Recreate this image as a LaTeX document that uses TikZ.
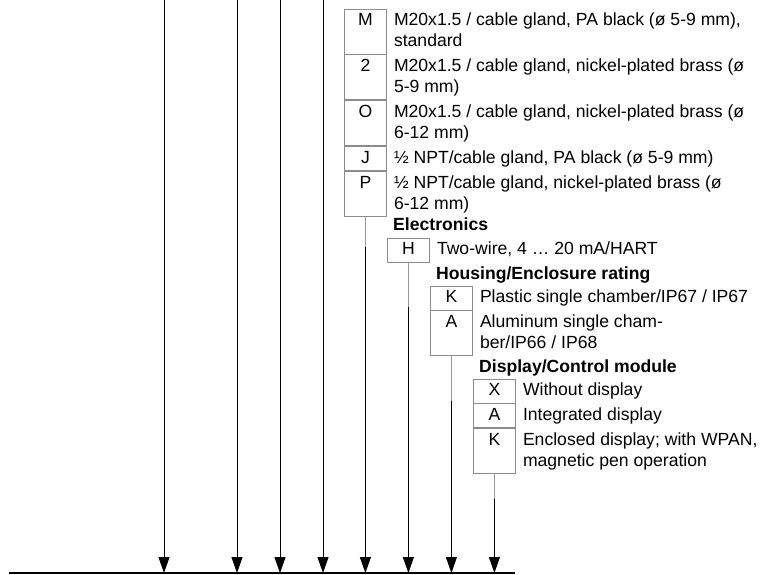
\documentclass[tikz,border=0pt]{standalone}
\usepackage{fontspec}
\setmainfont{Liberation Sans}
\usetikzlibrary{positioning,arrows.meta}
\newcommand{\bodysize}{\fontsize{17.6}{21}\selectfont}
\tikzset{
  codecell/.style={draw=black!45, line width=0.8pt, minimum width=42pt, inner sep=0pt, text height=17pt, text depth=7pt},
  tallcell/.style={codecell, text depth=28pt},
  desc/.style={anchor=base west, align=left, inner sep=0pt},
  desctwo/.style={desc, yshift=-21pt},
  head/.style={anchor=base west, inner sep=0pt, font=\bodysize\bfseries},
  feed/.style={line width=0.9pt, -{Triangle[width=11pt,length=16pt]}},
  stub/.style={draw=black!40, line width=0.9pt},
}

\begin{document}
\begin{tikzpicture}[x=1pt, y=-1pt, font=\bodysize]
			\useasboundingbox (0,0) rectangle (760,574);
			
			%%%%% BASE LINE %%%%%
			\coordinate (bl) at (9,573);
			\coordinate (br) at (515,573);
			\draw[line width=1.2pt] (bl) -- (br);
			
			%%%%% FREE POSITIONS %%%%%
			\foreach \px [count=\i] in {164,237,280,323} {
				\coordinate (t\i) at (\px,0);
				\draw[feed] (t\i) -- (t\i |- bl);
			}
			
			%%%%% CABLE ENTRY %%%%%
			\node[tallcell, anchor=north west] (cM) at (344,8.5) {M};
			\node[tallcell, below=0pt of cM] (c2) {2};
			\node[tallcell, below=0pt of c2] (cO) {O};
			\node[codecell, below=0pt of cO] (cJ) {J};
			\node[tallcell, below=0pt of cJ] (cP) {P};
			
			\node[desctwo] (dM) at ([xshift=7pt]cM.base east) {M20x1.5 / cable gland, PA black (ø 5-9 mm),\\standard};
			\node[desctwo] (d2) at ([xshift=7pt]c2.base east) {M20x1.5 / cable gland, nickel-plated brass (ø\\5-9 mm)};
			\node[desctwo] (dO) at ([xshift=7pt]cO.base east) {M20x1.5 / cable gland, nickel-plated brass (ø\\6-12 mm)};
			\node[desc] (dJ) at ([xshift=7pt]cJ.base east) {½ NPT/cable gland, PA black (ø 5-9 mm)};
			\node[desctwo] (dP) at ([xshift=7pt]cP.base east) {½ NPT/cable gland, nickel-plated brass (ø\\6-12 mm)};
			
			\draw[stub] (cP.south) -- ++(0,30) coordinate (sP);
			\draw[feed] (sP) -- (sP |- bl);
			
			%%%%% ELECTRONICS %%%%%
			\node[head] (hElec) at (393,230.5) {Electronics};
			\node[codecell, anchor=north west] (cH) at (387,237.5) {H};
			\node[desc] (dH) at ([xshift=7pt]cH.base east) {Two-wire, 4 … 20 mA/HART};
			
			\draw[stub] (cH.south) -- ++(0,45) coordinate (sH);
			\draw[feed] (sH) -- (sH |- bl);
			
			%%%%% HOUSING %%%%%
			\node[head] (hHous) at (436,279.5) {Housing/Enclosure rating};
			\node[codecell, anchor=north west] (cK) at (430,285.5) {K};
			\node[tallcell, below=0pt of cK] (cA) {A};
			\node[desc] (dK) at ([xshift=7pt]cK.base east) {Plastic single chamber/IP67 / IP67};
			\node[desctwo] (dA) at ([xshift=7pt]cA.base east) {Aluminum single cham-\\ber/IP66 / IP68};
			
			\draw[stub] (cA.south) -- ++(0,45) coordinate (sA);
			\draw[feed] (sA) -- (sA |- bl);
			
			%%%%% DISPLAY %%%%%
			\node[head] (hDisp) at (479,372) {Display/Control module};
			\node[codecell, anchor=north west] (cX) at (473,378.5) {X};
			\node[codecell, below=0pt of cX] (cI) {A};
			\node[tallcell, below=0pt of cI] (cE) {K};
			\node[desc] (dX) at ([xshift=7pt]cX.base east) {Without display};
			\node[desc] (dI) at ([xshift=7pt]cI.base east) {Integrated display};
			\node[desctwo] (dE) at ([xshift=7pt]cE.base east) {Enclosed display; with WPAN,\\magnetic pen operation};
			
			\draw[stub] (cE.south) -- ++(0,25) coordinate (sE);
			\draw[feed] (sE) -- (sE |- bl);
			
\end{tikzpicture}
\end{document}
